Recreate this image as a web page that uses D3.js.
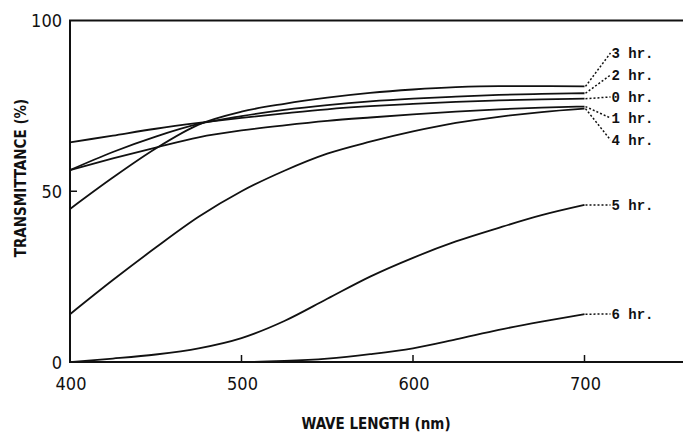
<!DOCTYPE html>
<html>
<head>
<meta charset="utf-8">
<script src="https://cdn.jsdelivr.net/npm/d3@7"></script>
<style>
  body { margin: 0; background: #fff; }
  svg { display: block; }
  .linea { fill: none; stroke: #111; stroke-width: 1.8; }
  .guia { fill: none; stroke: #111; stroke-width: 1.5; stroke-dasharray: 2,2; }
  .etiqueta { font-family: "Liberation Mono", monospace; font-weight: bold; font-size: 14px; fill: #111; }
  .tick-label { font-family: "Liberation Sans Narrow", "DejaVu Sans Condensed", sans-serif; font-size: 18px; fill: #111; }
  .titulo-eje { font-family: "Liberation Sans Narrow", "DejaVu Sans Condensed", sans-serif; font-size: 15px; font-weight: bold; fill: #111; }
</style>
</head>
<body>
<svg id="contenedor"></svg>
<script>
// longitudes de onda (nm) donde se leen los valores
let longitudes = [400, 425, 450, 475, 500, 525, 550, 575, 600, 625, 650, 675, 700];

// transmitancia (%) para cada tiempo de tratamiento
let horas0 = [64.3, 66.3, 68.3, 70.0, 71.5, 72.8, 74.0, 74.9, 75.6, 76.2, 76.6, 76.9, 77.1];
let horas1 = [56.2, 59.6, 62.8, 65.8, 67.8, 69.3, 70.6, 71.6, 72.5, 73.3, 74.0, 74.5, 74.8];
let horas2 = [56.2, 61.5, 66.0, 69.7, 72.0, 73.8, 75.2, 76.3, 77.1, 77.7, 78.2, 78.5, 78.7];
let horas3 = [44.8, 54.0, 62.5, 69.5, 73.3, 75.6, 77.4, 78.8, 79.8, 80.5, 80.8, 80.8, 80.7];
let horas4 = [14.0, 24.0, 33.5, 42.5, 50.0, 56.0, 61.0, 64.5, 67.5, 70.0, 71.8, 73.2, 74.2];
let horas5 = [0.0, 1.0, 2.2, 4.0, 7.0, 12.0, 18.5, 25.0, 30.5, 35.3, 39.3, 43.0, 46.0];
let horas6 = [0.0, 0.0, 0.0, 0.0, 0.0, 0.3, 1.0, 2.3, 4.0, 6.6, 9.4, 11.8, 14.0];

let nombres = ["0 hr.", "1 hr.", "2 hr.", "3 hr.", "4 hr.", "5 hr.", "6 hr."];
let ticksX = [400, 500, 600, 700];
let ticksY = [0, 50, 100];

// posicion vertical (px) de cada etiqueta a la derecha
let etiquetaY = { "0 hr.": 97, "1 hr.": 118, "2 hr.": 75, "3 hr.": 53, "4 hr.": 140, "5 hr.": 205, "6 hr.": 314 };

/* ################################# CONFIGURACION AREA DE DIBUJO ################################# */
function getConfig() {
  let width = 683;
  let height = 435;
  let margin = { top: 20.5, bottom: 73, left: 70, right: 0 };
  let container = d3.select("#contenedor").attr("width", width).attr("height", height);
  return { width, height, margin, container };
} // fin getConfig

/* ############################################# ESCALAS ########################################## */
function getScales(config) {
  let { height, margin } = config;
  let xScale = d3.scaleLinear().domain([400, 700]).range([margin.left, 584.5]);
  let yScale = d3.scaleLinear().domain([0, 100]).range([height - margin.bottom, margin.top]);
  return { xScale, yScale };
} // fin getScales

/* ############################################# EJES ########################################## */
function dibujarEjes(scales, config) {
  let { xScale, yScale } = scales;
  let { width, container } = config;
  let y0 = yScale(0), y100 = yScale(100), x0 = xScale(400);

  // marco: izquierda, abajo y arriba
  container.append("path")
    .attr("d", `M${width},${y100}H${x0}V${y0}H${width}`)
    .attr("fill", "none").attr("stroke", "#111").attr("stroke-width", 2);

  // marcas hacia dentro
  container.selectAll(".tickx").data(ticksX.slice(1)).enter().append("line")
    .attr("x1", d => xScale(d)).attr("x2", d => xScale(d))
    .attr("y1", y0).attr("y2", y0 - 7)
    .attr("stroke", "#111").attr("stroke-width", 1.5);
  container.selectAll(".ticky").data([50]).enter().append("line")
    .attr("x1", x0).attr("x2", x0 + 7)
    .attr("y1", d => yScale(d)).attr("y2", d => yScale(d))
    .attr("stroke", "#111").attr("stroke-width", 1.5);

  // etiquetas de los ejes
  container.selectAll(".lx").data(ticksX).enter().append("text")
    .attr("class", "tick-label")
    .attr("x", d => xScale(d) + 1).attr("y", y0 + 28)
    .attr("text-anchor", "middle").text(d => d);
  container.selectAll(".ly").data(ticksY).enter().append("text")
    .attr("class", "tick-label")
    .attr("x", x0 - 8).attr("y", d => yScale(d) + 6.5)
    .attr("text-anchor", "end").text(d => d);

  container.append("text").attr("class", "titulo-eje")
    .attr("x", 376).attr("y", 429).attr("text-anchor", "middle")
    .text("WAVE LENGTH (nm)");
  container.append("text").attr("class", "titulo-eje")
    .attr("transform", "translate(26,178) rotate(-90)")
    .attr("text-anchor", "middle")
    .text("TRANSMITTANCE (%)");
} // fin dibujarEjes

/* ############################################# CURVAS ########################################## */
function dibujarCurvas(series, scales, config) {
  let { xScale, yScale } = scales;
  let { container } = config;

  let line = d3.line()
    .x(d => xScale(d.x))
    .y(d => yScale(d.y))
    .curve(d3.curveMonotoneX);

  container.selectAll(".linea").data(series).enter().append("path")
    .attr("class", "linea")
    .attr("d", s => line(s.valores));

  // lineas punteadas hasta la etiqueta
  let xFin = xScale(700);
  container.selectAll(".guia").data(series).enter().append("path")
    .attr("class", "guia")
    .attr("d", s => {
      let yFin = yScale(s.valores[s.valores.length - 1].y);
      return `M${xFin + 1},${yFin}L${xFin + 26},${etiquetaY[s.nombre]}`;
    });

  container.selectAll(".etiqueta").data(series).enter().append("text")
    .attr("class", "etiqueta")
    .attr("x", xFin + 27).attr("y", s => etiquetaY[s.nombre] + 4.5)
    .text(s => s.nombre);
} // fin dibujarCurvas

/* ############################################# PRINCIPAL ########################################## */
let tablas = [horas0, horas1, horas2, horas3, horas4, horas5, horas6];
let series = nombres.map((n, i) => ({
  nombre: n,
  valores: longitudes.map((x, j) => ({ x: x, y: tablas[i][j] }))
}));

let config = getConfig();
let scales = getScales(config);
dibujarEjes(scales, config);
dibujarCurvas(series, scales, config);
</script>
</body>
</html>
